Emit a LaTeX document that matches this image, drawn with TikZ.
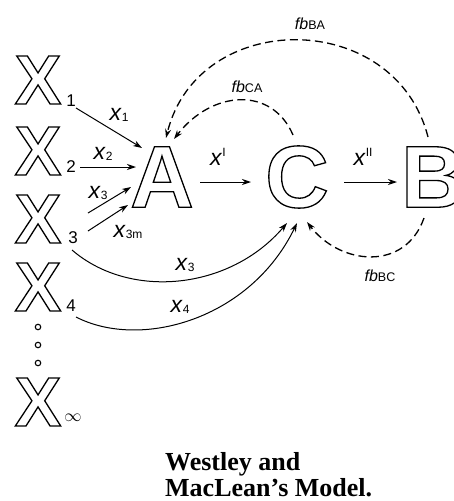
\documentclass[tikz,border=0pt]{standalone}
\usepackage{fontspec}
\setmainfont{Liberation Sans}
\newfontfamily\capfont{Liberation Serif}
\usetikzlibrary{arrows.meta}
\tikzset{
  big/.style={inner sep=0pt, font=\bfseries\fontsize{70}{70}\selectfont},
  huge/.style={inner sep=0pt, font=\bfseries\fontsize{88}{88}\selectfont},
  sub/.style={inner sep=0pt, font=\fontsize{17}{17}\selectfont},
  lab/.style={inner sep=0pt, font=\fontsize{23}{23}\selectfont},
  fblab/.style={inner sep=0pt, font=\fontsize{16}{16}\selectfont},
  arr/.style={-{Stealth[length=9pt,width=6pt]}, line width=1pt},
  darr/.style={-{Stealth[length=9pt,width=6pt]}, line width=1.3pt, dash pattern=on 8pt off 4.5pt},
}
\newcommand{\outl}[1]{\special{pdf:literal direct 1 Tr 1.3 w}#1\special{pdf:literal direct 0 Tr}}
\newcommand{\lx}[1]{\textit{x}{\fontsize{12}{12}\selectfont\raisebox{-1.5pt}{#1}}}
\newcommand{\ux}[1]{\textit{x}{\fontsize{12}{12}\selectfont\raisebox{9pt}{#1}}}
\newcommand{\fbl}[1]{\textit{fb}{\fontsize{12.5}{12.5}\selectfont #1}}
\begin{document}
\begin{tikzpicture}[x=1pt,y=-1pt]
\useasboundingbox (0,0) rectangle (453,501);
% big X column
\node[big] (X1) at (38,80) {\outl{X}};
\node[sub] (s1) at (71,101) {1};
\node[big] (X2) at (38,151) {\outl{X}};
\node[sub] (s2) at (71,167) {2};
\node[big] (X3) at (38,219) {\outl{X}};
\node[sub] (s3) at (73,238) {3};
\node[big] (X4) at (38,287) {\outl{X}};
\node[sub] (s4) at (71,306) {4};
\foreach \i/\yy in {1/327,2/345,3/363}
  \node[circle, draw, line width=1.1pt, inner sep=0pt, minimum size=5.5pt] (d\i) at (38,\yy) {};
\node[big] (Xinf) at (38,402) {\outl{X}};
\node[sub] (sinf) at (73,418) {$\infty$};
% main letters
\node[huge] (A) at (162,177) {\outl{A}};
\node[huge] (C) at (297,177) {\outl{C}};
\node[huge, anchor=west] (B) at (401,177) {\outl{B}};
% inputs to A
\coordinate (a1s) at (76,108);
\coordinate (a1e) at (142,148);
\draw[arr] (a1s) -- (a1e);
\node[lab] (l1) at (119,115) {\lx{1}};
\coordinate (a2s) at (80,167);
\coordinate (a2e) at (136,167);
\draw[arr] (a2s) -- (a2e);
\node[lab] (l2) at (103,154) {\lx{2}};
\coordinate (a3s) at (88,213);
\coordinate (a3e) at (131,187);
\draw[arr] (a3s) -- (a3e);
\node[lab] (l3) at (98,193) {\lx{3}};
\coordinate (a4s) at (88,231);
\coordinate (a4e) at (128,205);
\draw[arr] (a4s) -- (a4e);
\node[lab] (l4) at (128,232) {\lx{3m}};
% A -> C -> B
\coordinate (acs) at (200,182);
\coordinate (ace) at (251,182);
\draw[arr] (acs) -- (ace);
\node[lab] (lac) at (218,157) {\ux{I}};
\coordinate (cbs) at (344,182);
\coordinate (cbe) at (397,182);
\draw[arr] (cbs) -- (cbe);
\node[lab] (lcb) at (363,157) {\ux{II}};
% curves to C
\coordinate (c3s) at (72,250);
\coordinate (c3e) at (287,223);
\draw[arr] (c3s) .. controls (130,300) and (230,290) .. (c3e);
\node[lab] (lc3) at (185,265) {\lx{3}};
\coordinate (c4s) at (76,317);
\coordinate (c4e) at (297,223);
\draw[arr] (c4s) .. controls (140,350) and (250,320) .. (c4e);
\node[lab] (lc4) at (180,307) {\lx{4}};
% feedback
\coordinate (fbas) at (428,137);
\coordinate (fbae) at (166,138);
\draw[darr] (fbas) .. controls (395,8) and (198,8) .. (fbae);
\node[fblab] (lba) at (310,24) {\fbl{BA}};
\coordinate (fcas) at (293,135);
\coordinate (fcae) at (174,139);
\draw[darr] (fcas) .. controls (272,86) and (212,90) .. (fcae);
\node[fblab] (lca) at (247,87) {\fbl{CA}};
\coordinate (fbcs) at (424,218);
\coordinate (fbce) at (307,222);
\draw[darr] (fbcs) .. controls (405,272) and (340,265) .. (fbce);
\node[fblab] (lbc) at (380,276) {\fbl{BC}};
% caption
\node[anchor=base west, inner sep=0pt, font=\capfont\bfseries\fontsize{26}{26}\selectfont] (cap1) at (165,470) {Westley and};
\node[anchor=base west, inner sep=0pt, font=\capfont\bfseries\fontsize{26}{26}\selectfont] (cap2) at (165,496) {MacLean’s Model.};
\end{tikzpicture}
\end{document}
